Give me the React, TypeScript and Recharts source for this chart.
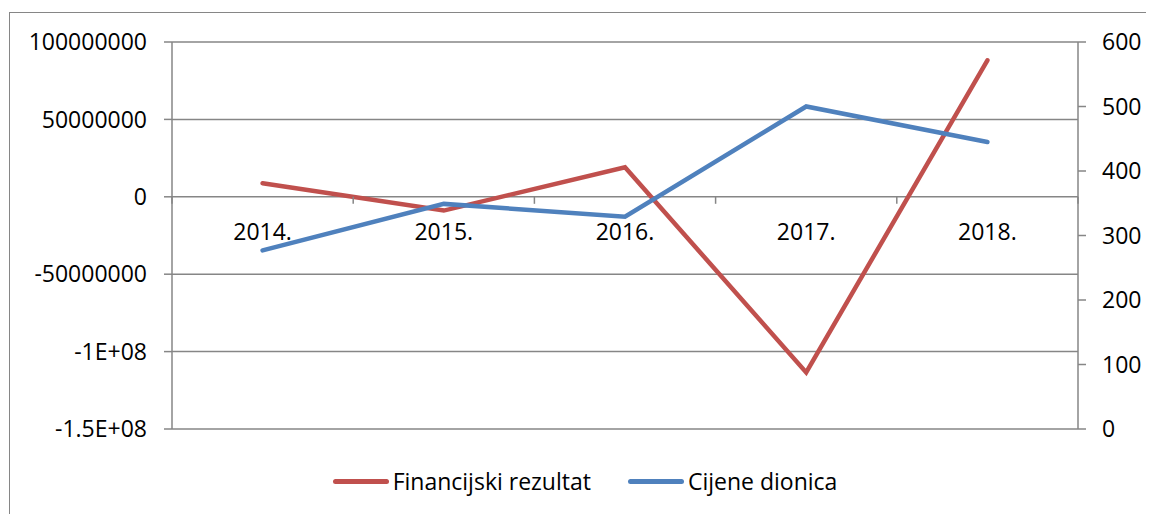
import { LineChart, Line, XAxis, YAxis, CartesianGrid } from 'recharts'

const years = ['2014.', '2015.', '2016.', '2017.', '2018.']
const financijskiRezultat = [8800000, -8900000, 19100000, -113500000, 88200000]
const cijeneDionica = [277, 349, 329, 500, 445]

const leftTicks = [-150000000, -100000000, -50000000, 0, 50000000, 100000000]
const leftTickLabels = ['-1.5E+08', '-1E+08', '-50000000', '0', '50000000', '100000000']
const rightTicks = [0, 100, 200, 300, 400, 500, 600]

const RED = '#C0504D'
const BLUE = '#4F81BD'
const GRAY = '#868686'
const FONT = '"Open Sans", "Noto Sans", sans-serif'
const FS = 23

const W = 1150
const H = 505
const M = { top: 29, right: 12, bottom: 88, left: 0 }
const LEFT_W = 162
const RIGHT_W = 70
const PLOT_H = H - M.top - M.bottom - 1
const PLOT_W = W - M.left - M.right - LEFT_W - RIGHT_W

const chartData = years.map((year, i) => ({
  year,
  rezultat: financijskiRezultat[i],
  cijene: cijeneDionica[i],
}))

// category labels sit under the zero line, like Excel does it
const CategoryTick = (props: any) => {
  const { x, payload, index } = props
  const lo = leftTicks[0]
  const hi = leftTicks[leftTicks.length - 1]
  const zeroY = M.top + (PLOT_H * hi) / (hi - lo)
  const band = PLOT_W / years.length
  return (
    <g>
      <line x1={x - band / 2} x2={x - band / 2} y1={zeroY} y2={zeroY + 7} stroke={GRAY} strokeWidth={1.5} />
      {index === years.length - 1 && (
        <line x1={x + band / 2} x2={x + band / 2} y1={zeroY} y2={zeroY + 7} stroke={GRAY} strokeWidth={1.5} />
      )}
      <text x={x} y={zeroY + 43} textAnchor="middle" fill="#000" fontSize={FS} fontFamily={FONT}>
        {payload.value}
      </text>
    </g>
  )
}

const LegendItem = ({ color, label }: { color: string; label: string }) => (
  <div style={{ display: 'flex', alignItems: 'center' }}>
    <div style={{ width: 56, height: 5, borderRadius: 3, background: color, marginRight: 4 }} />
    <span>{label}</span>
  </div>
)

export default function App() {
  return (
    <div
      style={{
        position: 'relative',
        marginTop: 4,
        marginLeft: 1,
        width: W,
        height: H + 10,
        border: `1px solid ${GRAY}`,
        fontFamily: FONT,
      }}
    >
      <LineChart width={W} height={H} data={chartData} margin={M}>
        <CartesianGrid vertical={false} stroke={GRAY} strokeWidth={1.5} yAxisId="left" />
        <XAxis
          dataKey="year"
          scale="band"
          height={1}
          axisLine={false}
          tickLine={false}
          interval={0}
          tick={(p: any) => <CategoryTick {...p} />}
        />
        <YAxis
          yAxisId="left"
          width={LEFT_W}
          domain={[leftTicks[0], leftTicks[leftTicks.length - 1]]}
          ticks={leftTicks}
          tickFormatter={(v) => leftTickLabels[leftTicks.indexOf(Number(v))] ?? String(v)}
          axisLine={{ stroke: GRAY, strokeWidth: 1.5 }}
          tickLine={{ stroke: GRAY, strokeWidth: 1.5 }}
          tickSize={8}
          tickMargin={17}
          tick={{ fill: '#000', fontSize: FS, fontFamily: FONT }}
          allowDataOverflow
        />
        <YAxis
          yAxisId="right"
          orientation="right"
          width={RIGHT_W}
          domain={[0, 600]}
          ticks={rightTicks}
          axisLine={{ stroke: GRAY, strokeWidth: 1.5 }}
          tickLine={{ stroke: GRAY, strokeWidth: 1.5 }}
          tickSize={8}
          tickMargin={16}
          tick={{ fill: '#000', fontSize: FS, fontFamily: FONT }}
        />
        <Line
          yAxisId="left"
          dataKey="rezultat"
          stroke={RED}
          strokeWidth={4.5}
          dot={false}
          strokeLinecap="round"
          isAnimationActive={false}
        />
        <Line
          yAxisId="right"
          dataKey="cijene"
          stroke={BLUE}
          strokeWidth={4.5}
          dot={false}
          strokeLinecap="round"
          isAnimationActive={false}
        />
      </LineChart>
      <div
        style={{
          position: 'absolute',
          top: 452,
          left: 0,
          width: W,
          display: 'flex',
          justifyContent: 'center',
          gap: 37,
          fontSize: FS,
          color: '#000',
        }}
      >
        <LegendItem color={RED} label="Financijski rezultat" />
        <LegendItem color={BLUE} label="Cijene dionica" />
      </div>
    </div>
  )
}
